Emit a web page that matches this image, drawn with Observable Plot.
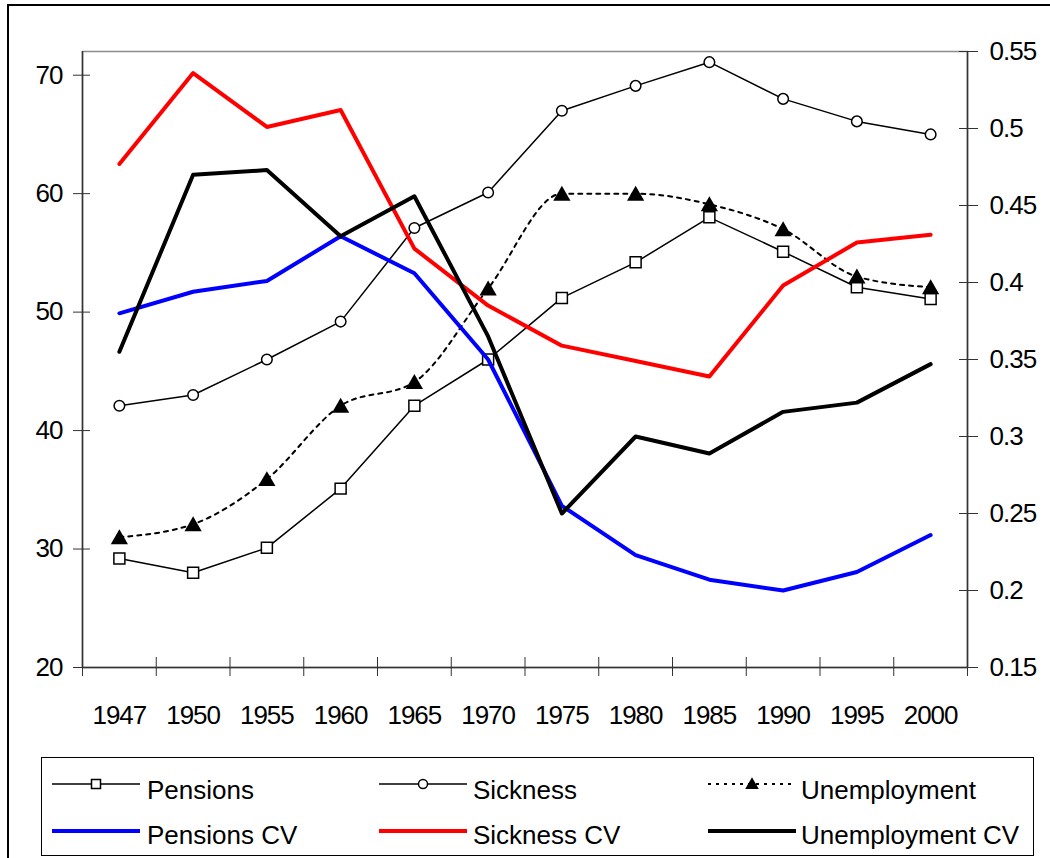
<!DOCTYPE html>
<html><head><meta charset="utf-8">
<script src="https://cdn.jsdelivr.net/npm/d3@7"></script>
<script src="https://cdn.jsdelivr.net/npm/@observablehq/plot@0.6"></script>
<style>
html,body{margin:0;padding:0;background:#fff;overflow:hidden;width:1050px;height:858px;}
#wrap{position:relative;width:1050px;height:858px;overflow:hidden;}
#border{position:absolute;left:7px;top:4px;width:1200px;height:1000px;border-left:2px solid #000;border-top:2px solid #000;pointer-events:none;z-index:5;}
#chart{position:absolute;left:0;top:0;}
#legend{position:absolute;left:0;top:740px;}
.ticklab text{letter-spacing:-1px;}
</style></head><body>
<div id="wrap"><div id="chart"></div><svg id="legend" width="1050" height="118"></svg><div id="border"></div></div>
<script>
const years = ["1947","1950","1955","1960","1965","1970","1975","1980","1985","1990","1995","2000"];
const pensions = [29.2, 28.0, 30.1, 35.1, 42.1, 46.0, 51.2, 54.2, 58.0, 55.1, 52.1, 51.1];
const sickness = [42.1, 43.0, 46.0, 49.2, 57.1, 60.1, 67.0, 69.1, 71.1, 68.0, 66.1, 65.0];
const unemployment = [31.0, 32.1, 35.9, 42.1, 44.1, 52.0, 60.0, 60.0, 59.1, 57.0, 53.0, 52.1];
const pensionsCV = [0.380, 0.394, 0.401, 0.430, 0.406, 0.350, 0.255, 0.223, 0.207, 0.200, 0.212, 0.236];
const sicknessCV = [0.477, 0.536, 0.501, 0.512, 0.422, 0.385, 0.359, 0.349, 0.339, 0.398, 0.426, 0.431];
const unemploymentCV = [0.355, 0.470, 0.473, 0.430, 0.456, 0.365, 0.250, 0.300, 0.289, 0.316, 0.322, 0.347];
const leftTicks = [20, 30, 40, 50, 60, 70];
const rightTicks = [0.15, 0.2, 0.25, 0.3, 0.35, 0.4, 0.45, 0.5, 0.55];
const leftDomain = [20, 72];
const rightDomain = [0.15, 0.55];
const seriesNames = ["Pensions", "Sickness", "Unemployment", "Pensions CV", "Sickness CV", "Unemployment CV"];

// map secondary-axis values onto primary y scale
const toLeft = r => leftDomain[0] + (r - rightDomain[0]) / (rightDomain[1] - rightDomain[0]) * (leftDomain[1] - leftDomain[0]);
const fromLeft = v => rightDomain[0] + (v - leftDomain[0]) / (leftDomain[1] - leftDomain[0]) * (rightDomain[1] - rightDomain[0]);

const idx = d3.range(years.length);
const W = 1050, H = 740;
const font = "'Liberation Sans', Arial, sans-serif";

const chart = Plot.plot({
  width: W, height: H,
  marginLeft: 82, marginRight: 83, marginTop: 51, marginBottom: H - 667,
  style: {fontFamily: font, fontSize: "26px", background: "white", color: "#000", overflow: "visible"},
  x: {type: "linear", domain: [-0.5, years.length - 0.5], axis: null},
  y: {domain: leftDomain, axis: null},
  marks: [
    Plot.frame({stroke: "#8c8c8c", strokeWidth: 1.5}),
    Plot.ruleX([-0.5], {stroke: "#333", strokeWidth: 1.5}),
    Plot.ruleX([years.length - 0.5], {stroke: "#333", strokeWidth: 1.5}),
    Plot.ruleY([leftDomain[0]], {stroke: "#333", strokeWidth: 1.5}),
    // left axis
    Plot.axisY(leftTicks, {anchor: "left", tickSize: 17, dx: 8, tickFormat: () => "", stroke: "#333"}),
    Plot.axisY(leftTicks, {anchor: "left", tickSize: 0, tickPadding: 20, tickFormat: d => String(d), className: "ticklab"}),
    // right axis
    Plot.axisY(rightTicks.map(toLeft), {anchor: "right", tickSize: 19, dx: -9, tickFormat: () => "", stroke: "#333"}),
    Plot.axisY(rightTicks.map(toLeft), {anchor: "right", tickSize: 0, tickPadding: 22, tickFormat: v => String(+fromLeft(v).toFixed(2)), className: "ticklab"}),
    // x axis
    Plot.axisX(d3.range(years.length + 1).map(i => i - 0.5), {anchor: "bottom", tickSize: 19, dy: -10, tickFormat: () => "", stroke: "#333"}),
    Plot.axisX(idx, {anchor: "bottom", tickSize: 0, tickPadding: 38, tickFormat: i => years[i], className: "ticklab"}),
    // primary series
    Plot.line(idx, {x: i => i, y: i => pensions[i], stroke: "#000", strokeWidth: 1.5}),
    Plot.line(idx, {x: i => i, y: i => sickness[i], stroke: "#000", strokeWidth: 1.5}),
    Plot.line(idx, {x: i => i, y: i => unemployment[i], stroke: "#000", strokeWidth: 2, strokeDasharray: "4,5", curve: "monotone-x"}),
    Plot.dot(idx, {x: i => i, y: i => pensions[i], symbol: "square", r: 6.2, fill: "white", stroke: "#000", strokeWidth: 1.5}),
    Plot.dot(idx, {x: i => i, y: i => sickness[i], symbol: "circle", r: 5.3, fill: "white", stroke: "#000", strokeWidth: 1.5}),
    Plot.dot(idx, {x: i => i, y: i => unemployment[i], symbol: "triangle", r: 6.4, fill: "#000", stroke: "none", dy: 2}),
    // secondary series (CV)
    Plot.line(idx, {x: i => i, y: i => toLeft(pensionsCV[i]), stroke: "#0000ff", strokeWidth: 4}),
    Plot.line(idx, {x: i => i, y: i => toLeft(sicknessCV[i]), stroke: "#ff0000", strokeWidth: 4}),
    Plot.line(idx, {x: i => i, y: i => toLeft(unemploymentCV[i]), stroke: "#000", strokeWidth: 4})
  ]
});
document.getElementById("chart").appendChild(chart);

// legend
const lg = d3.select("#legend");
const oy = 740;
lg.append("rect").attr("x", 41.5).attr("y", 757.5 - oy).attr("width", 992).attr("height", 98)
  .attr("fill", "white").attr("stroke", "#000").attr("stroke-width", 1);
const colX = [52, 379, 708], textX = [147, 473, 801];
const rowLineY = [784, 831].map(v => v - oy), rowTextY = [799, 844].map(v => v - oy);
const styles = [
  {stroke: "#000", w: 1.5, dash: null, marker: "square"},
  {stroke: "#000", w: 1.5, dash: null, marker: "circle"},
  {stroke: "#000", w: 2, dash: "3,5", marker: "triangle"},
  {stroke: "#0000ff", w: 4, dash: null, marker: null},
  {stroke: "#ff0000", w: 4, dash: null, marker: null},
  {stroke: "#000", w: 4, dash: null, marker: null}
];
seriesNames.forEach((name, k) => {
  const c = k % 3, r = Math.floor(k / 3), s = styles[k];
  const y = rowLineY[r], x0 = colX[c], x1 = colX[c] + 88, xm = (x0 + x1) / 2;
  const ln = lg.append("line").attr("x1", x0).attr("x2", x1).attr("y1", y).attr("y2", y)
    .attr("stroke", s.stroke).attr("stroke-width", s.w);
  if (s.dash) ln.attr("stroke-dasharray", s.dash);
  if (s.marker === "square") lg.append("rect").attr("x", xm - 4.5).attr("y", y - 4.5).attr("width", 9).attr("height", 9).attr("fill", "white").attr("stroke", "#000").attr("stroke-width", 1.5);
  if (s.marker === "circle") lg.append("circle").attr("cx", xm).attr("cy", y).attr("r", 4.5).attr("fill", "white").attr("stroke", "#000").attr("stroke-width", 1.5);
  if (s.marker === "triangle") lg.append("path").attr("d", d3.symbol(d3.symbolTriangle, 80)()).attr("transform", `translate(${xm},${y + 1})`).attr("fill", "#000");
  lg.append("text").attr("x", textX[c]).attr("y", rowTextY[r]).attr("font-family", font).attr("font-size", 26)
    .attr("fill", "#000").text(name);
});
</script>
</body></html>
